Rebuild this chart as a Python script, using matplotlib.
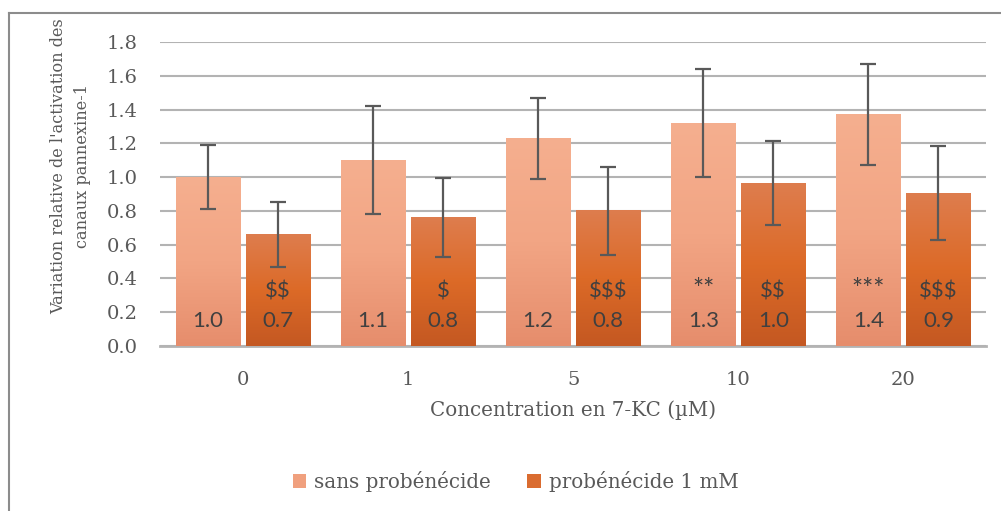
import matplotlib.pyplot as plt
import numpy as np
from matplotlib.colors import LinearSegmentedColormap
from matplotlib.patches import Patch
from matplotlib.lines import Line2D

# Valeurs
concentrations = ["0", "1", "5", "10", "20"]
sans_probenecide = [1.00, 1.10, 1.23, 1.32, 1.37]
sans_err = [0.19, 0.32, 0.24, 0.32, 0.30]
avec_probenecide = [0.66, 0.76, 0.80, 0.965, 0.905]
avec_err = [0.19, 0.235, 0.26, 0.25, 0.28]
etiquettes_sans = ["1.0", "1.1", "1.2", "1.3", "1.4"]
etiquettes_avec = ["0.7", "0.8", "0.8", "1.0", "0.9"]
sig_sans = ["", "", "", "**", "***"]
sig_avec = ["$$", "$", "$$$", "$$", "$$$"]

serif = "DejaVu Serif"
sans = "Lato"
gris_texte = "#595959"

cmap_clair = LinearSegmentedColormap.from_list("clair", ["#E68D6C", "#F2A584", "#F5AF8F"])
cmap_fonce = LinearSegmentedColormap.from_list("fonce", ["#C45822", "#DC6A27", "#DE7D4E"])

fig = plt.figure(figsize=(10.01, 5.11), dpi=100)
ax = fig.add_axes([0.160, 0.3229, 0.825, 0.5949])

# cadre du graphique (bords gauche et haut visibles)
fig.add_artist(Line2D([9 / 1001, 9 / 1001], [0, 1 - 13 / 511], color="#8C8C8C", lw=1.5))
fig.add_artist(Line2D([9 / 1001, 1], [1 - 13 / 511, 1 - 13 / 511], color="#8C8C8C", lw=1.5))

x = np.arange(len(concentrations))
largeur = 0.388
ecart = 0.036
pos1 = x - ecart / 2 - largeur / 2
pos2 = x + ecart / 2 + largeur / 2

grad = np.linspace(0, 1, 256).reshape(-1, 1)

def barre_degrade(xc, h, cmap):
    ax.imshow(grad, extent=(xc - largeur / 2, xc + largeur / 2, 0, h), origin="lower",
              cmap=cmap, aspect="auto", zorder=2, interpolation="bilinear")

for i in range(len(x)):
    barre_degrade(pos1[i], sans_probenecide[i], cmap_clair)
    barre_degrade(pos2[i], avec_probenecide[i], cmap_fonce)

ax.errorbar(pos1, sans_probenecide, yerr=sans_err, fmt="none", ecolor="#595959",
            elinewidth=1.6, capsize=6, capthick=1.6, zorder=3)
ax.errorbar(pos2, avec_probenecide, yerr=avec_err, fmt="none", ecolor="#595959",
            elinewidth=1.6, capsize=6, capthick=1.6, zorder=3)

opts = dict(ha="center", va="center", family=sans, color="#404040",
            zorder=4, parse_math=False)
for i in range(len(x)):
    ax.text(pos1[i], 0.15, etiquettes_sans[i], fontsize=16, **opts)
    ax.text(pos2[i], 0.15, etiquettes_avec[i], fontsize=16, **opts)
    if sig_sans[i]:
        ax.text(pos1[i], 0.33, sig_sans[i], fontsize=19, **opts)
    ax.text(pos2[i], 0.32, sig_avec[i], fontsize=16, **opts)

ax.set_xlim(-0.5, len(x) - 0.5)
ax.set_ylim(0, 1.8)
ax.set_yticks(np.arange(0, 1.81, 0.2))
ax.set_yticklabels([f"{v:.1f}" for v in np.arange(0, 1.81, 0.2)], family=serif,
                   fontsize=14, color=gris_texte)
ax.set_xticks(x)
ax.set_xticklabels(concentrations, family=serif, fontsize=14, color=gris_texte)
ax.tick_params(axis="y", length=0, pad=16)
ax.tick_params(axis="x", length=0, pad=18)
ax.yaxis.grid(True, color="#B3B3B3", lw=1.5, zorder=0)
ax.set_axisbelow(True)
for s in ["top", "right", "left"]:
    ax.spines[s].set_visible(False)
ax.spines["bottom"].set_color("#B3B3B3")
ax.spines["bottom"].set_linewidth(2)
ax.spines["bottom"].set_zorder(1)

ax.set_xlabel("Concentration en 7-KC (µM)", family=serif, fontsize=14.3, color=gris_texte, labelpad=8)
fig.text(70.5 / 1001, 1 - 166 / 511, "Variation relative de l'activation des\ncanaux pannexine-1",
         family=serif, fontsize=11.6, color=gris_texte, rotation=90, ha="center", va="center",
         multialignment="center", linespacing=1.55)

handles = [Patch(facecolor="#F0A07E", label="sans probénécide"),
           Patch(facecolor="#DA6C30", label="probénécide 1 mM")]
fig.legend(handles=handles, loc="center", bbox_to_anchor=(0.515, 1 - 481 / 511), ncol=2,
           frameon=False, prop={"family": serif, "size": 14.3}, labelcolor=gris_texte,
           handlelength=0.7, handleheight=0.7, handletextpad=0.4, columnspacing=1.8)

fig.savefig("out.png", dpi=100)
